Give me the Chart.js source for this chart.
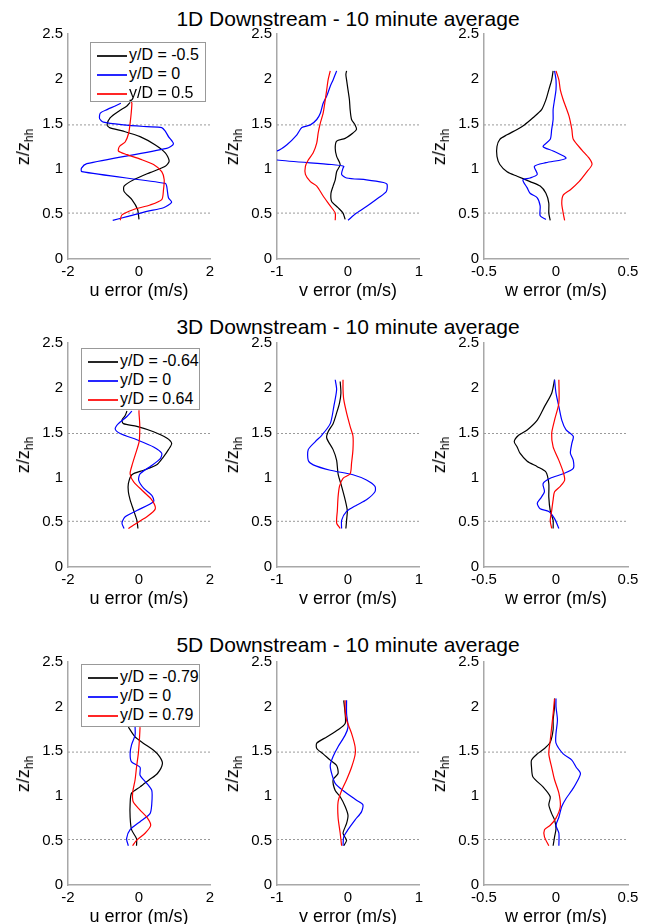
<!DOCTYPE html>
<html>
<head>
<meta charset="utf-8">
<script src="https://cdn.jsdelivr.net/npm/chart.js@4.4.1/dist/chart.umd.min.js"></script>
<style>
  html, body { margin:0; padding:0; background:#fff; }
  body { width:651px; height:924px; position:relative; overflow:hidden; font-family:"Liberation Sans", Arial, sans-serif; color:#000; }
  canvas { position:absolute; }
  .title { position:absolute; font-size:21px; white-space:nowrap; transform:translateX(-50%); line-height:21px; }
  .xtitle { position:absolute; font-size:18px; white-space:nowrap; transform:translate(-50%,-50%); line-height:18px; }
  .ytitle { position:absolute; font-size:18px; white-space:nowrap; transform:translate(-50%,-50%) rotate(-90deg); line-height:18px; }
  .ytitle sub { font-size:12px; vertical-align:-4px; }
  .legend { position:absolute; background:#fff; border:1px solid #999; box-sizing:border-box; z-index:5; }
  .legend .row { position:absolute; left:6px; height:20px; line-height:20px; font-size:16px; white-space:nowrap; }
  .legend .sw { position:absolute; left:0; top:10px; width:30px; height:2px; opacity:0.85; }
  .legend .tx { position:absolute; left:32px; top:0; }
</style>
</head>
<body>
<script>
// ---------- data ----------
const rowTitles = ['1D Downstream - 10 minute average', '3D Downstream - 10 minute average', '5D Downstream - 10 minute average'];
const legend1D = ['y/D = -0.5', 'y/D = 0', 'y/D = 0.5'];
const legend3D = ['y/D = -0.64', 'y/D = 0', 'y/D = 0.64'];
const legend5D = ['y/D = -0.79', 'y/D = 0', 'y/D = 0.79'];
const xTitles = ['u error (m/s)', 'v error (m/s)', 'w error (m/s)'];
const xTicksU = [-2, 0, 2];
const xTicksV = [-1, 0, 1];
const xTicksW = [-0.5, 0, 0.5];
const yTicks = [0, 0.5, 1, 1.5, 2, 2.5];
const rotorBounds = [0.51, 1.49];

// [error, z/z_hh] pairs
const u1D_neg = [[0.0,0.44],[-0.04,0.55],[-0.2,0.66],[-0.42,0.75],[-0.42,0.81],[-0.15,0.88],[0.31,0.96],[0.74,1.03],[0.85,1.09],[0.74,1.18],[0.45,1.27],[0.03,1.36],[-0.44,1.42],[-0.83,1.46],[-0.9,1.49],[-0.81,1.57],[-0.58,1.64],[-0.34,1.70],[-0.25,1.74]];
const u1D_zero = [[-0.74,0.43],[-0.34,0.47],[0.22,0.53],[0.69,0.57],[0.92,0.63],[0.83,0.68],[0.78,0.81],[0.74,0.84],[-1.61,0.97],[-1.62,1.01],[-1.47,1.06],[0.78,1.23],[0.97,1.28],[0.83,1.36],[0.74,1.42],[0.64,1.46],[0.22,1.47],[-0.44,1.49],[-1.0,1.52],[-1.11,1.56],[-1.09,1.62],[-0.9,1.66],[-0.67,1.70],[-0.51,1.73]];
const u1D_pos = [[-0.53,0.43],[-0.48,0.49],[-0.15,0.55],[0.31,0.60],[0.64,0.66],[0.69,0.77],[0.71,0.88],[0.64,0.97],[0.41,1.05],[0.03,1.11],[-0.34,1.16],[-0.58,1.20],[-0.55,1.25],[-0.39,1.30],[-0.29,1.40],[-0.25,1.51],[-0.22,1.62],[-0.2,1.73],[-0.22,1.75]];

const v1D_neg = [[-0.04,0.44],[-0.07,0.51],[-0.14,0.57],[-0.23,0.64],[-0.24,0.73],[-0.21,0.81],[-0.18,0.88],[-0.16,0.97],[-0.11,1.05],[-0.16,1.14],[-0.18,1.23],[-0.16,1.31],[-0.04,1.34],[0.07,1.40],[0.12,1.44],[0.1,1.49],[0.05,1.55],[0.03,1.66],[0.02,1.77],[0.0,1.88],[-0.02,1.99],[-0.03,2.05],[-0.02,2.09]];
const v1D_zero = [[0.0,0.43],[0.12,0.51],[0.29,0.60],[0.43,0.68],[0.54,0.75],[0.55,0.83],[0.50,0.85],[0.26,0.88],[-0.02,0.90],[-0.09,0.94],[-0.07,1.01],[-0.06,1.03],[-0.23,1.05],[-1.0,1.10],[-1.3,1.15],[-1.0,1.2],[-0.86,1.27],[-0.72,1.38],[-0.65,1.46],[-0.53,1.49],[-0.44,1.55],[-0.39,1.62],[-0.35,1.73],[-0.3,1.81],[-0.25,1.92],[-0.21,1.99],[-0.18,2.05],[-0.16,2.09]];
const v1D_pos = [[-0.18,0.43],[-0.18,0.51],[-0.25,0.59],[-0.35,0.70],[-0.44,0.81],[-0.53,0.86],[-0.6,0.94],[-0.6,1.03],[-0.56,1.10],[-0.49,1.18],[-0.44,1.29],[-0.42,1.40],[-0.39,1.51],[-0.35,1.62],[-0.32,1.77],[-0.3,1.88],[-0.28,1.99],[-0.25,2.09]];

const w1D_neg = [[-0.04,0.43],[-0.05,0.51],[-0.05,0.62],[-0.07,0.73],[-0.11,0.81],[-0.18,0.86],[-0.27,0.92],[-0.34,0.97],[-0.39,1.05],[-0.41,1.14],[-0.41,1.25],[-0.39,1.33],[-0.34,1.38],[-0.27,1.44],[-0.22,1.49],[-0.16,1.57],[-0.1,1.66],[-0.07,1.77],[-0.05,1.88],[-0.03,1.99],[-0.02,2.09]];
const w1D_zero = [[-0.07,0.44],[-0.11,0.48],[-0.11,0.59],[-0.13,0.68],[-0.18,0.73],[-0.2,0.79],[-0.23,0.88],[-0.18,0.90],[-0.13,0.94],[-0.15,1.03],[-0.07,1.07],[0.07,1.12],[-0.02,1.2],[-0.09,1.25],[-0.04,1.33],[-0.03,1.44],[-0.02,1.55],[-0.02,1.66],[-0.01,1.77],[0.0,1.88],[0.0,1.99],[-0.01,2.09]];
const w1D_pos = [[0.06,0.43],[0.05,0.51],[0.04,0.62],[0.05,0.71],[0.10,0.77],[0.16,0.86],[0.21,0.96],[0.25,1.05],[0.23,1.12],[0.18,1.21],[0.12,1.33],[0.11,1.44],[0.09,1.59],[0.05,1.77],[0.03,1.88],[0.02,1.99],[0.0,2.09]];

const u3D_neg = [[-0.03,0.43],[-0.06,0.52],[-0.15,0.63],[-0.25,0.75],[-0.3,0.84],[-0.3,0.93],[-0.2,1.03],[0.13,1.08],[0.5,1.14],[0.69,1.23],[0.83,1.31],[0.92,1.38],[0.78,1.44],[0.41,1.51],[-0.06,1.57],[-0.44,1.60],[-0.48,1.64],[-0.39,1.69],[-0.34,1.74]];
const u3D_zero = [[-0.42,0.43],[-0.48,0.49],[-0.39,0.56],[-0.06,0.63],[0.41,0.73],[0.36,0.80],[0.13,0.88],[-0.01,0.97],[0.03,1.04],[0.31,1.12],[0.6,1.21],[0.64,1.27],[0.41,1.34],[-0.06,1.42],[-0.53,1.49],[-0.67,1.54],[-0.58,1.60],[-0.34,1.68],[-0.2,1.74]];
const u3D_pos = [[-0.3,0.43],[-0.15,0.47],[0.22,0.56],[0.46,0.65],[0.36,0.75],[0.13,0.84],[-0.15,0.95],[-0.25,1.04],[-0.2,1.13],[-0.1,1.26],[0.0,1.39],[0.02,1.49],[0.02,1.60],[0.0,1.72],[0.0,1.75]];

const v3D_neg = [[-0.03,0.43],[-0.02,0.52],[-0.01,0.63],[-0.04,0.75],[-0.09,0.90],[-0.14,1.04],[-0.16,1.19],[-0.21,1.31],[-0.3,1.44],[-0.28,1.51],[-0.21,1.60],[-0.16,1.72],[-0.12,1.83],[-0.1,1.94],[-0.11,2.07]];
const v3D_zero = [[-0.09,0.43],[-0.09,0.52],[-0.02,0.62],[0.12,0.69],[0.26,0.75],[0.38,0.84],[0.38,0.90],[0.26,0.97],[0.07,1.03],[-0.25,1.08],[-0.49,1.14],[-0.56,1.19],[-0.56,1.31],[-0.46,1.40],[-0.37,1.47],[-0.25,1.60],[-0.2,1.79],[-0.16,1.98],[-0.18,2.09]];
const v3D_pos = [[-0.11,0.43],[-0.16,0.49],[-0.15,0.63],[-0.14,0.78],[-0.12,0.90],[-0.07,0.99],[0.03,1.04],[0.05,1.16],[0.07,1.31],[0.07,1.46],[0.03,1.57],[-0.02,1.72],[-0.06,1.87],[-0.07,1.98],[-0.07,2.09]];

const w3D_neg = [[-0.02,0.43],[-0.02,0.52],[-0.04,0.63],[-0.05,0.78],[-0.05,0.93],[-0.07,1.06],[-0.13,1.12],[-0.2,1.18],[-0.25,1.27],[-0.27,1.34],[-0.29,1.40],[-0.26,1.47],[-0.2,1.53],[-0.13,1.64],[-0.08,1.79],[-0.03,1.94],[-0.01,2.09]];
const w3D_zero = [[0.02,0.43],[-0.01,0.54],[-0.05,0.62],[-0.11,0.65],[-0.13,0.71],[-0.11,0.76],[-0.08,0.84],[-0.09,0.93],[-0.04,0.99],[0.05,1.04],[0.12,1.10],[0.12,1.19],[0.1,1.27],[0.11,1.38],[0.12,1.46],[0.07,1.53],[0.04,1.64],[0.02,1.79],[0.0,1.94],[-0.01,2.09]];
const w3D_pos = [[-0.03,0.43],[-0.04,0.52],[-0.03,0.63],[-0.02,0.75],[-0.01,0.84],[0.03,0.90],[0.06,0.97],[0.05,1.06],[0.02,1.19],[-0.02,1.34],[-0.03,1.49],[-0.01,1.64],[0.02,1.83],[0.02,2.09]];

const u5D_neg = [[-0.07,0.44],[-0.07,0.52],[-0.21,0.62],[-0.25,0.76],[-0.25,0.91],[-0.21,1.03],[0.03,1.10],[0.29,1.18],[0.52,1.25],[0.66,1.36],[0.58,1.44],[0.41,1.51],[0.12,1.59],[-0.11,1.66],[-0.3,1.77]];
const u5D_zero = [[-0.3,0.44],[-0.35,0.52],[-0.25,0.62],[0.03,0.71],[0.31,0.80],[0.36,0.91],[0.36,1.06],[0.22,1.14],[0.03,1.23],[0.03,1.32],[-0.21,1.38],[-0.25,1.47],[-0.21,1.57],[-0.11,1.68],[-0.11,1.77]];
const u5D_pos = [[-0.18,0.44],[-0.07,0.50],[0.17,0.58],[0.33,0.67],[0.22,0.76],[0.03,0.84],[-0.16,0.93],[-0.18,1.03],[-0.11,1.18],[-0.07,1.32],[-0.02,1.47],[0.01,1.62],[0.03,1.77]];

const v5D_neg = [[-0.06,0.44],[-0.02,0.50],[-0.07,0.58],[-0.02,0.69],[0.0,0.78],[-0.04,0.88],[-0.11,0.99],[-0.18,1.06],[-0.21,1.18],[-0.14,1.25],[-0.16,1.34],[-0.25,1.40],[-0.35,1.47],[-0.44,1.53],[-0.44,1.59],[-0.3,1.66],[-0.14,1.74],[-0.04,1.81],[-0.04,1.92],[-0.06,2.07]];
const v5D_zero = [[-0.07,0.44],[-0.06,0.54],[0.0,0.62],[0.1,0.73],[0.19,0.82],[0.21,0.90],[0.12,0.95],[-0.07,1.06],[-0.18,1.14],[-0.23,1.25],[-0.25,1.34],[-0.21,1.44],[-0.14,1.55],[-0.04,1.68],[0.0,1.77],[-0.02,1.92],[-0.02,2.07]];
const v5D_pos = [[-0.09,0.44],[-0.11,0.58],[-0.14,0.76],[-0.14,0.93],[-0.09,1.06],[-0.02,1.18],[0.05,1.32],[0.1,1.46],[0.1,1.55],[0.05,1.70],[-0.02,1.85],[-0.04,1.96],[-0.04,2.07]];

const w5D_neg = [[-0.02,0.44],[-0.01,0.54],[0.0,0.63],[-0.01,0.73],[-0.03,0.80],[-0.05,0.90],[-0.04,0.99],[-0.09,1.10],[-0.16,1.21],[-0.17,1.32],[-0.17,1.40],[-0.13,1.47],[-0.08,1.53],[-0.04,1.60],[-0.02,1.74],[-0.02,1.85],[-0.01,2.0],[-0.01,2.09]];
const w5D_zero = [[0.02,0.44],[0.02,0.58],[0.0,0.67],[0.02,0.76],[0.04,0.88],[0.07,0.97],[0.11,1.06],[0.14,1.14],[0.17,1.25],[0.14,1.32],[0.11,1.40],[0.05,1.47],[0.0,1.59],[0.0,1.70],[0.01,1.85],[0.0,2.0],[0.0,2.09]];
const w5D_pos = [[-0.05,0.44],[-0.08,0.54],[-0.08,0.62],[-0.04,0.67],[0.0,0.75],[0.03,0.88],[0.02,1.03],[-0.01,1.18],[-0.03,1.32],[-0.05,1.47],[-0.04,1.62],[-0.03,1.77],[-0.02,1.92],[-0.01,2.09]];

// ---------- layout / style ----------
const FONT = '"Liberation Sans", Arial, sans-serif';
const lineColors = ['#000000', '#0000ff', '#ff0000'];
const rowsGeom = [{top:34, bottom:259, titleY:8}, {top:343, bottom:567, titleY:316}, {top:662, bottom:885, titleY:634}];
const colsGeom = [{left:68, right:210}, {left:277, right:419}, {left:484, right:628}];
const xTickSets = [xTicksU, xTicksV, xTicksW];
const legends = [legend1D, legend3D, legend5D];
const legendBoxes = [{left:90, top:42, w:116, h:60}, {left:81, top:348, w:119, h:62}, {left:81, top:664, w:119, h:63}];
const panelSeries = [
  [[u1D_neg,u1D_zero,u1D_pos],[v1D_neg,v1D_zero,v1D_pos],[w1D_neg,w1D_zero,w1D_pos]],
  [[u3D_neg,u3D_zero,u3D_pos],[v3D_neg,v3D_zero,v3D_pos],[w3D_neg,w3D_zero,w3D_pos]],
  [[u5D_neg,u5D_zero,u5D_pos],[v5D_neg,v5D_zero,v5D_pos],[w5D_neg,w5D_zero,w5D_pos]]
];

const PADL = 10, YW = 50, PADT = 15, PADR = 15, XH = 30;

function addDiv(cls, html, left, top) {
  const d = document.createElement('div');
  d.className = cls; d.innerHTML = html;
  d.style.left = left + 'px'; d.style.top = top + 'px';
  document.body.appendChild(d);
  return d;
}

rowsGeom.forEach((rg, r) => {
  addDiv('title', rowTitles[r], 348, rg.titleY);
  colsGeom.forEach((cg, c) => {
    const plotW = cg.right - cg.left, plotH = rg.bottom - rg.top;
    const cv = document.createElement('canvas');
    const cw = PADL + YW + plotW + PADR, ch = PADT + plotH + XH;
    cv.width = cw; cv.height = ch;
    cv.style.left = (cg.left - PADL - YW) + 'px';
    cv.style.top = (rg.top - PADT) + 'px';
    cv.style.width = cw + 'px'; cv.style.height = ch + 'px';
    document.body.appendChild(cv);

    const ticks = xTickSets[c];
    const xMin = ticks[0], xMax = ticks[ticks.length - 1];
    const series = panelSeries[r][c];
    const datasets = series.map((s, i) => ({
      data: s.map(p => ({x: p[0], y: p[1]})),
      borderColor: lineColors[i], backgroundColor: lineColors[i],
      showLine: true, pointRadius: 0, borderWidth: 1.2, tension: 0.25, fill: false,
      order: 3 - i
    }));
    rotorBounds.forEach(z => datasets.push({
      data: [{x: xMin, y: z}, {x: xMax, y: z}],
      borderColor: '#9a9a9a', borderDash: [2, 2], borderWidth: 1,
      showLine: true, pointRadius: 0, tension: 0, fill: false, order: 10
    }));

    new Chart(cv, {
      type: 'scatter',
      data: { datasets },
      options: {
        responsive: false, animation: false, events: [],
        devicePixelRatio: 1,
        plugins: { legend: {display: false}, tooltip: {enabled: false} },
        layout: { padding: {left: PADL, top: PADT, right: PADR, bottom: 0} },
        scales: {
          x: {
            type: 'linear', min: xMin, max: xMax,
            afterBuildTicks: s => { s.ticks = ticks.map(v => ({value: v})); },
            afterFit: s => { s.height = XH; },
            grid: { drawOnChartArea: false, drawTicks: false },
            border: { color: '#a8a8a8', width: 1.5 },
            ticks: { font: {family: FONT, size: 15}, color: '#000', padding: 4, maxRotation: 0, autoSkip: false,
                     callback: v => String(v) }
          },
          y: {
            type: 'linear', min: 0, max: 2.5,
            afterBuildTicks: s => { s.ticks = yTicks.map(v => ({value: v})); },
            afterFit: s => { s.width = YW; },
            grid: { drawOnChartArea: false, drawTicks: false },
            border: { color: '#a8a8a8', width: 1.5 },
            ticks: { font: {family: FONT, size: 15}, color: '#000', padding: 5, autoSkip: false,
                     callback: v => String(v) }
          }
        }
      }
    });

    addDiv('xtitle', xTitles[c], (cg.left + cg.right) / 2, rg.bottom + 31);
    addDiv('ytitle', 'z/z<sub>hh</sub>', cg.left - 42, (rg.top + rg.bottom) / 2);
  });

  // legend in first column
  const lb = legendBoxes[r];
  const lg = addDiv('legend', '', lb.left, lb.top);
  lg.style.width = lb.w + 'px'; lg.style.height = lb.h + 'px';
  legends[r].forEach((txt, i) => {
    const row = document.createElement('div');
    row.className = 'row';
    row.style.top = (2 + i * 19) + 'px';
    row.innerHTML = '<span class="sw" style="background:' + lineColors[i] + '"></span><span class="tx">' + txt + '</span>';
    lg.appendChild(row);
  });
});
</script>
</body>
</html>
